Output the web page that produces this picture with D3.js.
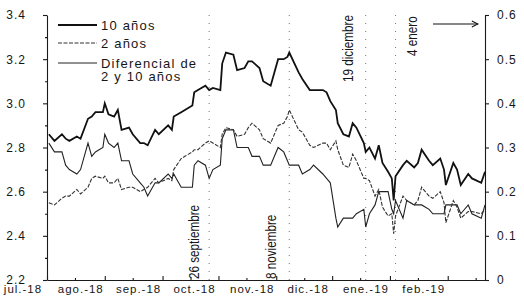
<!DOCTYPE html>
<html>
<head>
<meta charset="utf-8">
<script src="https://cdn.jsdelivr.net/npm/d3@7"></script>
<style>
  body { margin: 0; background: #fff; }
  svg text { font-family: 'Liberation Sans', Arial, sans-serif; fill: #161616; }
  .axis path, .axis line { stroke: #1a1a1a; stroke-width: 1.1; }
</style>
</head>
<body>
<svg id="chart" width="524" height="296"></svg>
<script>
'use strict';

// yields (%), roughly every 2-3 trading days
var dates = [
  '2018-07-02','2018-07-05','2018-07-09','2018-07-11','2018-07-13','2018-07-17','2018-07-19','2018-07-23','2018-07-25','2018-07-27',
  '2018-07-31','2018-08-01','2018-08-03','2018-08-06','2018-08-08','2018-08-10','2018-08-14','2018-08-16','2018-08-20','2018-08-22',
  '2018-08-24','2018-08-28','2018-08-30','2018-09-04','2018-09-06','2018-09-07','2018-09-11','2018-09-13','2018-09-17','2018-09-18',
  '2018-09-20','2018-09-24','2018-09-26','2018-09-28','2018-10-02','2018-10-03','2018-10-05','2018-10-09','2018-10-11','2018-10-15',
  '2018-10-17','2018-10-19','2018-10-23','2018-10-25','2018-10-29','2018-10-31','2018-11-02','2018-11-05','2018-11-07','2018-11-08',
  '2018-11-13','2018-11-15','2018-11-19','2018-11-21','2018-11-26','2018-11-28','2018-11-30','2018-12-03','2018-12-04','2018-12-07',
  '2018-12-10','2018-12-12','2018-12-14','2018-12-18','2018-12-19','2018-12-21','2018-12-24','2018-12-26','2018-12-28','2018-12-31',
  '2019-01-02','2019-01-03','2019-01-04','2019-01-08','2019-01-10','2019-01-14','2019-01-16','2019-01-18','2019-01-22','2019-01-24',
  '2019-01-28','2019-01-30','2019-01-31','2019-02-04','2019-02-06','2019-02-08','2019-02-12','2019-02-14','2019-02-19','2019-02-21'
];

var tenYear = [
  2.86, 2.83, 2.86, 2.84, 2.83, 2.85, 2.84, 2.93, 2.94, 2.96,
  2.96, 3.00, 2.95, 2.94, 2.97, 2.88, 2.89, 2.86, 2.82, 2.82,
  2.81, 2.88, 2.86, 2.90, 2.88, 2.94, 2.96, 2.97, 2.99, 3.05,
  3.06, 3.08, 3.06, 3.07, 3.06, 3.18, 3.23, 3.22, 3.15, 3.16,
  3.19, 3.19, 3.16, 3.10, 3.08, 3.14, 3.20, 3.20, 3.21, 3.23,
  3.14, 3.11, 3.06, 3.06, 3.06, 3.05, 3.01, 2.97, 2.91, 2.86,
  2.85, 2.91, 2.89, 2.82, 2.78, 2.80, 2.75, 2.81, 2.73, 2.69,
  2.66, 2.56, 2.67, 2.72, 2.74, 2.71, 2.73, 2.79, 2.74, 2.72,
  2.75, 2.70, 2.63, 2.73, 2.70, 2.63, 2.68, 2.66, 2.64, 2.69
];

var twoYear = [
  2.55, 2.54, 2.57, 2.58, 2.58, 2.61, 2.59, 2.62, 2.66, 2.67,
  2.66, 2.67, 2.64, 2.64, 2.66, 2.61, 2.62, 2.62, 2.60, 2.61,
  2.62, 2.66, 2.64, 2.66, 2.65, 2.70, 2.75, 2.76, 2.78, 2.79,
  2.79, 2.82, 2.83, 2.82, 2.80, 2.86, 2.89, 2.88, 2.85, 2.86,
  2.89, 2.91, 2.88, 2.84, 2.82, 2.86, 2.90, 2.91, 2.94, 2.97,
  2.88, 2.87, 2.81, 2.80, 2.82, 2.82, 2.79, 2.83, 2.79, 2.72,
  2.71, 2.77, 2.74, 2.66, 2.66, 2.65, 2.58, 2.61, 2.53, 2.49,
  2.50, 2.41, 2.49, 2.58, 2.56, 2.54, 2.56, 2.62, 2.58, 2.57,
  2.60, 2.55, 2.46, 2.56, 2.53, 2.48, 2.51, 2.51, 2.50, 2.52
];

// right axis series
var spread = [
  0.31, 0.29, 0.29, 0.26, 0.25, 0.24, 0.25, 0.31, 0.28, 0.29,
  0.30, 0.33, 0.31, 0.30, 0.31, 0.27, 0.27, 0.24, 0.22, 0.21,
  0.19, 0.22, 0.22, 0.24, 0.23, 0.24, 0.21, 0.21, 0.21, 0.26,
  0.27, 0.26, 0.23, 0.25, 0.26, 0.32, 0.34, 0.34, 0.30, 0.30,
  0.30, 0.28, 0.28, 0.26, 0.26, 0.28, 0.30, 0.29, 0.27, 0.26,
  0.26, 0.24, 0.25, 0.26, 0.24, 0.23, 0.22, 0.14, 0.12, 0.14,
  0.14, 0.14, 0.15, 0.16, 0.12, 0.15, 0.17, 0.20, 0.20, 0.20,
  0.16, 0.15, 0.18, 0.14, 0.18, 0.17, 0.17, 0.17, 0.16, 0.15,
  0.15, 0.15, 0.17, 0.17, 0.17, 0.15, 0.17, 0.15, 0.14, 0.17
];

var leftTicks = [2.2, 2.4, 2.6, 2.8, 3.0, 3.2, 3.4];
var leftTickLabels = ['2.2', '2.4', '2.6', '2.8', '3.0', '3.2', '3.4'];
var rightTicks = [0, 0.1, 0.2, 0.3, 0.4, 0.5, 0.6];
var rightTickLabels = ['0', '0.1', '0.2', '0.3', '0.4', '0.5', '0.6'];
var monthLabels = ['jul.-18', 'ago.-18', 'sep.-18', 'oct.-18', 'nov.-18', 'dic.-18', 'ene.-19', 'feb.-19'];
var eventDates = ['2018-09-26', '2018-11-08', '2018-12-19', '2019-01-04'];
var eventLabels = ['26 septiembre', '8 noviembre', '19 diciembre', '4 enero'];
var legendLabels = [['10 años'], ['2 años'], ['Diferencial de', '2 y 10 años']];

// where each event label sits relative to its dotted line
var eventLayout = [
  {dx: -10, y: 279},
  {dx: -13, y: 279},
  {dx: -13, y: 82},
  {dx: 21, y: 56}
];

var parse = d3.timeParse('%Y-%m-%d');
var margin = {top: 15, right: 39, bottom: 16, left: 47};
var width = 524, height = 296;
var plotBottom = height - margin.bottom;
var plotRight = width - margin.right;

var data = dates.map(function(d, i) {
  return {date: parse(d), ten: tenYear[i], two: twoYear[i], spread: spread[i]};
});

// scales
var x = d3.scaleTime()
    .domain([new Date(2018, 6, 1), new Date(2019, 1, 21)])
    .range([margin.left, plotRight]);

var yLeft = d3.scaleLinear()
    .domain([2.2, 3.4])
    .range([plotBottom, margin.top]);

var yRight = d3.scaleLinear()
    .domain([0, 0.6])
    .range([plotBottom, margin.top]);

var svg = d3.select('#chart');

// event dotted lines
svg.selectAll('.event')
    .data(eventDates)
  .enter().append('line')
    .attr('class', 'event')
    .attr('x1', function(d) { return x(parse(d)); })
    .attr('x2', function(d) { return x(parse(d)); })
    .attr('y1', margin.top)
    .attr('y2', plotBottom)
    .attr('stroke', '#777')
    .attr('stroke-width', 1)
    .attr('stroke-dasharray', '1,7');

// condensed look: squeeze the text along its own direction
svg.selectAll('.event-label')
    .data(eventLabels)
  .enter().append('text')
    .attr('class', 'event-label')
    .attr('transform', function(d, i) {
      var lx = x(parse(eventDates[i])) + eventLayout[i].dx;
      return 'translate(' + lx + ',' + eventLayout[i].y + ') rotate(-90) scale(0.78,1)';
    })
    .style('font-size', '15px')
    .text(function(d) { return d; });

// left axis
var leftAxis = svg.append('g')
    .attr('class', 'axis')
    .attr('transform', 'translate(' + margin.left + ',0)')
    .call(d3.axisLeft(yLeft)
      .tickValues(leftTicks)
      .tickFormat(function(d, i) { return leftTickLabels[i]; })
      .tickSize(4)
      .tickSizeOuter(0)
      .tickPadding(17));
leftAxis.selectAll('text')
    .style('font-size', '12px')
    .style('letter-spacing', '1px');

svg.append('g')
    .attr('class', 'axis')
    .attr('transform', 'translate(' + margin.left + ',0)')
    .call(d3.axisLeft(yLeft)
      .tickValues(yLeft.ticks(12).filter(function(v) { return leftTicks.indexOf(+v.toFixed(1)) < 0; }))
      .tickFormat('')
      .tickSize(2)
      .tickSizeOuter(0))
    .select('.domain').remove();

// right axis
var rightAxis = svg.append('g')
    .attr('class', 'axis')
    .attr('transform', 'translate(' + plotRight + ',0)')
    .call(d3.axisRight(yRight)
      .tickValues(rightTicks)
      .tickFormat(function(d, i) { return rightTickLabels[i]; })
      .tickSize(4)
      .tickSizeOuter(0)
      .tickPadding(8));
rightAxis.selectAll('text')
    .style('font-size', '12px')
    .style('letter-spacing', '1px');

// bottom axis, ticks pointing up
var months = d3.timeMonth.range(new Date(2018, 6, 1), new Date(2019, 1, 2));
svg.append('g')
    .attr('class', 'axis')
    .attr('transform', 'translate(0,' + plotBottom + ')')
    .call(d3.axisBottom(x)
      .tickValues(months)
      .tickFormat('')
      .tickSize(-4)
      .tickSizeOuter(0));

svg.append('g')
    .attr('class', 'axis')
    .attr('transform', 'translate(0,' + plotBottom + ')')
    .call(d3.axisBottom(x)
      .tickValues(months.map(function(m) { return d3.timeDay.offset(m, 15); }))
      .tickFormat('')
      .tickSize(-2)
      .tickSizeOuter(0))
    .select('.domain').remove();

svg.selectAll('.month')
    .data(monthLabels)
  .enter().append('text')
    .attr('class', 'month')
    .attr('x', function(d, i) { return x(months[i]) - 24; })
    .attr('y', 292.5)
    .attr('text-anchor', 'middle')
    .style('font-size', '11.5px')
    .style('letter-spacing', '1px')
    .text(function(d) { return d; });

// series
var lineTen = d3.line()
    .x(function(d) { return x(d.date); })
    .y(function(d) { return yLeft(d.ten); });
var lineTwo = d3.line()
    .x(function(d) { return x(d.date); })
    .y(function(d) { return yLeft(d.two); });
var lineSpread = d3.line()
    .x(function(d) { return x(d.date); })
    .y(function(d) { return yRight(d.spread); });

svg.append('path')
    .datum(data)
    .attr('d', lineSpread)
    .attr('fill', 'none')
    .attr('stroke', '#222')
    .attr('stroke-width', 1.1);

svg.append('path')
    .datum(data)
    .attr('d', lineTwo)
    .attr('fill', 'none')
    .attr('stroke', '#333')
    .attr('stroke-width', 1.1)
    .attr('stroke-dasharray', '4,1.5');

svg.append('path')
    .datum(data)
    .attr('d', lineTen)
    .attr('fill', 'none')
    .attr('stroke', '#111')
    .attr('stroke-width', 1.8);

// legend
var legendStyle = [
  {y: 25, width: 1.8, dash: null, color: '#111'},
  {y: 43, width: 1.1, dash: '4,1.5', color: '#333'},
  {y: 63, width: 1.1, dash: null, color: '#222'}
];

var legend = svg.selectAll('.legend')
    .data(legendLabels)
  .enter().append('g')
    .attr('class', 'legend');

legend.append('line')
    .attr('x1', 58)
    .attr('x2', 97)
    .attr('y1', function(d, i) { return legendStyle[i].y; })
    .attr('y2', function(d, i) { return legendStyle[i].y; })
    .attr('stroke', function(d, i) { return legendStyle[i].color; })
    .attr('stroke-width', function(d, i) { return legendStyle[i].width; })
    .attr('stroke-dasharray', function(d, i) { return legendStyle[i].dash; });

legend.each(function(lines, i) {
  var t = d3.select(this).append('text')
      .attr('x', 101)
      .attr('y', legendStyle[i].y + 4.5)
      .style('font-size', '13px')
      .style('letter-spacing', '1.2px');
  lines.forEach(function(s, j) {
    t.append('tspan')
        .attr('x', 101)
        .attr('dy', j ? 13.5 : 0)
        .text(s);
  });
});

// arrow pointing at the right axis
svg.append('defs').append('marker')
    .attr('id', 'head')
    .attr('viewBox', '0 0 10 10')
    .attr('refX', 9)
    .attr('refY', 5)
    .attr('markerWidth', 7)
    .attr('markerHeight', 7)
    .attr('orient', 'auto')
  .append('path')
    .attr('d', 'M1,1 L9,5 L1,9')
    .attr('fill', 'none')
    .attr('stroke', '#111')
    .attr('stroke-width', 1.4);

svg.append('line')
    .attr('x1', 433)
    .attr('x2', 478)
    .attr('y1', 24)
    .attr('y2', 24)
    .attr('stroke', '#111')
    .attr('stroke-width', 1.1)
    .attr('marker-end', 'url(#head)');
</script>
</body>
</html>
